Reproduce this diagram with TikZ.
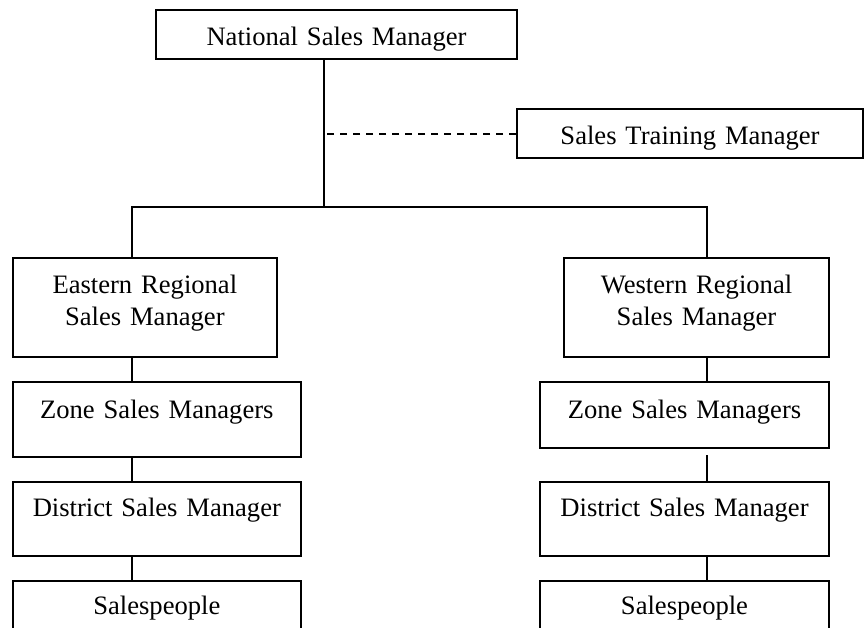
\documentclass[tikz,border=0pt]{standalone}
\usepackage{fontspec}
\setmainfont{Liberation Serif}
\begin{document}
\begin{tikzpicture}[x=0.5pt, y=-0.5pt, line width=1pt,
  orgbox/.style={draw, anchor=north west, inner sep=0pt, align=center,
    font=\fontsize{13.3}{16}\selectfont},
  linkdash/.style={dashed, dash pattern=on 3.5pt off 3pt}]
\useasboundingbox (0,0) rectangle (865,627);
\clip (0,0) rectangle (865,627);

% top level
\node[orgbox, text width=180.5pt, text height=17.5pt, text depth=7pt] (nat) at (155,9) {National Sales Manager};
\node[orgbox, text width=173pt, text height=17.5pt, text depth=7pt] (train) at (516,108) {Sales Training Manager};

% eastern branch
\node[orgbox, text width=132.15pt, text height=17.5pt, text depth=32pt] (east) at (11.7,257) {Eastern Regional\\Sales Manager};
\node[orgbox, text width=144.15pt, text height=18pt, text depth=19.5pt] (zoneE) at (11.7,381) {Zone Sales Managers};
\node[orgbox, text width=144.15pt, text height=17pt, text depth=20pt] (distE) at (11.7,481) {District Sales Manager};
\node[orgbox, text width=144.15pt, text height=16.5pt, text depth=30pt] (salesE) at (11.7,580) {Salespeople};

% western branch
\node[orgbox, text width=132.5pt, text height=17.5pt, text depth=32pt] (west) at (563,257) {Western Regional\\Sales Manager};
\node[orgbox, text width=144.5pt, text height=18pt, text depth=15pt] (zoneW) at (539,381) {Zone Sales Managers};
\node[orgbox, text width=144.5pt, text height=17pt, text depth=20pt] (distW) at (539,481) {District Sales Manager};
\node[orgbox, text width=144.5pt, text height=16.5pt, text depth=30pt] (salesW) at (539,580) {Salespeople};

% junction points of the connector tree
\coordinate (hub) at (324,207);
\coordinate (ljoin) at (131.7,207);
\coordinate (rjoin) at (707,207);
\coordinate (rgap) at (707,455);

% connectors
\draw (nat.south -| hub) -- (hub);
\draw[linkdash] (train.west) -- (train.west -| hub);
\draw (ljoin |- east.north) -- (ljoin) -- (rjoin) -- (rjoin |- west.north);

\draw (ljoin |- east.south) -- (ljoin |- zoneE.north);
\draw (ljoin |- zoneE.south) -- (ljoin |- distE.north);
\draw (ljoin |- distE.south) -- (ljoin |- salesE.north);

\draw (rjoin |- west.south) -- (rjoin |- zoneW.north);
\draw (rgap) -- (rjoin |- distW.north);
\draw (rjoin |- distW.south) -- (rjoin |- salesW.north);
\end{tikzpicture}
\end{document}
